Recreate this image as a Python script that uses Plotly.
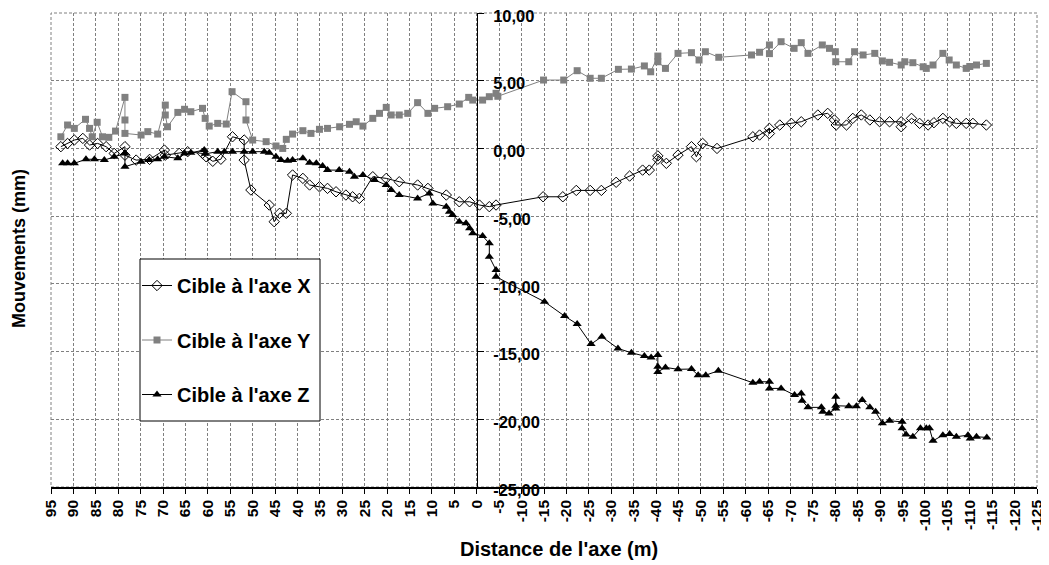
import plotly.graph_objects as go

# ---------------- data ----------------
x_tick_vals = list(range(95, -130, -5))
x_tick_text = [str(v) for v in x_tick_vals]
y_tick_vals = [10, 5, 0, -5, -10, -15, -20, -25]
y_tick_text = ["10,00", "5,00", "0,00", "-5,00", "-10,00", "-15,00", "-20,00", "-25,00"]

series_names = ["Cible à l'axe X", "Cible à l'axe Y", "Cible à l'axe Z"]

dist_x = [92.8, 91.3, 89.8, 87.9, 86.4, 84.6, 82.7, 80.9, 78.5, 78.5, 76.0, 73.0, 69.7, 69.5,
          66.4, 64.5, 61.2, 60.4, 58.9, 57.1, 54.5, 51.9, 51.9, 50.4, 46.3, 45.2, 44.0, 42.5,
          41.1, 38.8, 37.3, 35.1, 33.3, 31.4, 29.2, 27.7, 26.2, 23.2, 20.2, 17.3, 13.2, 10.9,
          6.8, 3.9, 1.6, -0.6, -2.8, -4.3, -14.8, -19.2, -22.2, -25.3, -27.8, -31.1, -34.1,
          -37.0, -38.5, -40.4, -40.4, -42.3, -44.9, -47.9, -49.0, -50.4, -53.6, -61.6, -63.1,
          -65.3, -65.3, -67.6, -70.2, -72.4, -76.1, -78.3, -79.8, -80.2, -82.5, -83.9, -85.8,
          -87.7, -89.9, -92.1, -94.7, -94.7, -97.0, -98.8, -100.7, -102.0, -104.0, -105.5,
          -107.0, -109.2, -110.7, -113.7]
val_x = [0.13, 0.37, 0.62, 0.74, 0.25, 0.37, 0.13, -0.37, 0.13, -0.5, -0.86, -0.81, -0.12, -0.5,
         -0.37, -0.24, -0.37, -0.61, -0.95, -0.8, 0.86, 0.62, -0.86, -3.07, -4.18, -5.41, -4.79, -4.79,
         -1.96, -2.21, -2.7, -2.83, -2.95, -3.2, -3.44, -3.57, -3.69, -2.09, -2.21, -2.46, -2.7, -2.95,
         -3.44, -3.94, -3.94, -4.18, -4.3, -4.18, -3.57, -3.57, -3.1, -3.1, -3.1, -2.5, -2.04,
         -1.6, -1.6, -0.8, -0.55, -1.1, -0.49, 0.13, -0.61, 0.37, 0.0, 0.86, 0.99,
         1.48, 1.1, 1.73, 1.85, 1.97, 2.47, 2.59, 2.1, 1.73, 1.73, 2.22, 2.47,
         2.1, 1.97, 1.97, 1.97, 1.6, 2.22, 1.85, 1.73, 1.9, 2.22, 1.97,
         1.85, 1.85, 1.85, 1.73]

dist_y = [92.8, 91.3, 89.8, 87.3, 86.4, 85.8, 84.7, 83.5, 82.1, 80.6, 78.5, 78.5, 78.5, 74.9,
          73.4, 71.2, 69.5, 69.5, 69.0, 66.7, 65.2, 63.8, 61.2, 60.6, 59.7, 57.8, 55.9, 54.6,
          51.5, 51.5, 50.0, 47.0, 44.8, 43.3, 42.5, 41.1, 38.8, 37.0, 35.1, 33.3, 30.6, 28.4,
          26.9, 25.4, 23.2, 21.7, 20.2, 19.1, 17.3, 15.4, 13.2, 10.9, 9.4, 6.5, 3.9, 1.8, 0.9,
          -1.3, -2.8, -4.3, -4.7, -14.9, -19.4, -22.4, -25.3, -27.8, -31.6, -34.5, -37.4, -38.8,
          -40.4, -40.4, -42.1, -44.9, -47.9, -49.6, -51.0, -54.0, -61.3, -63.1, -65.3, -65.3,
          -67.9, -70.8, -72.4, -73.9, -77.1, -78.7, -80.0, -80.1, -83.0, -84.3, -86.2, -88.8,
          -90.5, -92.1, -94.7, -95.5, -97.3, -99.6, -100.3, -101.8, -104.0, -105.4, -107.0,
          -109.2, -110.0, -111.5, -113.7]
val_y = [0.86, 1.73, 1.48, 2.15, 1.48, 0.86, 1.93, 0.86, 0.82, 1.28, 3.77, 2.1, 1.11, 0.99,
         1.24, 1.06, 3.2, 2.47, 1.6, 2.66, 2.89, 2.71, 2.96, 2.22, 1.65, 1.85, 1.8, 4.19,
         3.45, 2.1, 0.62, 0.5, 0.18, 0.0, 0.67, 1.06, 1.31, 1.11, 1.41, 1.48, 1.6, 1.78,
         1.97, 1.65, 2.22, 2.59, 3.03, 2.47, 2.47, 2.59, 3.38, 2.59, 2.96, 3.08, 3.28, 3.77, 3.57,
         3.57, 3.82, 4.07, 3.85, 5.05, 5.05, 5.74, 5.18, 5.18, 5.84, 5.86, 6.09, 5.66,
         6.82, 6.4, 5.91, 7.02, 7.07, 6.53, 7.14, 6.73, 6.9, 7.1, 7.64, 7.0,
         7.88, 7.39, 7.81, 7.02, 7.64, 7.39, 7.14, 6.4, 6.4, 7.14, 6.9, 7.02,
         6.46, 6.36, 6.16, 6.4, 6.33, 6.03, 5.91, 6.16, 7.02, 6.53, 6.16,
         5.91, 6.05, 6.16, 6.28]

dist_z = [92.4, 91.3, 89.8, 87.2, 85.3, 83.1, 80.9, 78.5, 78.5, 74.9, 73.1, 71.2, 69.7, 66.7,
          65.2, 63.8, 60.8, 60.6, 57.8, 56.3, 54.5, 51.9, 50.0, 47.4, 46.3, 44.8, 43.7, 42.2,
          41.1, 38.8, 37.3, 35.8, 34.4, 33.3, 30.7, 28.4, 27.3, 25.4, 22.8, 20.2, 19.1, 17.3,
          13.2, 10.6, 9.8, 6.8, 6.1, 5.4, 3.9, 2.4, 1.6, 0.9, -1.3, -2.8, -2.8, -4.3, -4.3,
          -15.1, -19.6, -22.4, -25.5, -27.9, -31.5, -34.5, -37.4, -38.9, -40.4, -40.4, -40.4,
          -42.1, -44.9, -47.9, -49.4, -51.1, -53.9, -61.6, -63.1, -65.3, -65.3, -67.9, -70.9,
          -72.4, -72.6, -73.9, -76.9, -77.2, -78.6, -80.1, -80.1, -80.1, -83.0, -84.7, -86.0,
          -87.7, -89.0, -90.5, -92.1, -94.9, -94.9, -95.8, -97.3, -99.0, -100.3, -101.0,
          -101.8, -104.0, -105.5, -107.0, -109.6, -110.1, -111.5, -113.8]
val_z = [-1.1, -1.1, -1.1, -0.8, -0.8, -0.86, -0.61, -0.37, -1.35, -0.98, -0.86, -0.8, -0.61, -0.73,
         -0.37, -0.32, -0.12, -0.4, -0.24, -0.24, -0.24, -0.24, -0.24, -0.24, -0.32, -0.61, -0.86, -0.91,
         -0.86, -0.73, -1.06, -1.1, -1.3, -1.6, -1.6, -1.72, -2.09, -1.96, -2.33, -2.7, -3.07, -3.44,
         -3.69, -3.32, -4.06, -4.3, -4.67, -4.92, -5.41, -5.53, -5.9, -6.27, -6.47, -7.01, -8.0, -8.98, -9.48,
         -11.32, -12.38, -12.97, -14.45, -13.9, -14.77, -15.09, -15.33, -15.43, -15.26, -16.12, -16.5,
         -16.17, -16.31, -16.29, -16.74, -16.74, -16.42, -17.3, -17.23, -17.23, -17.72, -17.72, -18.21,
         -18.09, -18.63, -19.12, -19.12, -19.45, -19.57, -19.2, -18.34, -19.0, -19.03, -19.03, -18.58,
         -19.12, -19.45, -20.3, -20.11, -20.19, -20.67, -21.12, -21.29, -20.67, -20.67, -20.67,
         -21.59, -21.17, -21.09, -21.29, -21.17, -21.41, -21.29, -21.34]

# ---------------- figure ----------------
FONT = "Liberation Sans, Arial, sans-serif"
GRID = "#808080"
DASH = "3px,2px"

# plot area in page pixels (page body has an 8px margin)
PX0, PX1, PY0, PY1 = 51, 1037, 13, 487
PW, PH = PX1 - PX0, PY1 - PY0


def fx(px):
    return (px - PX0) / PW


def fy(py):
    return (PY1 - py) / PH


fig = go.Figure()
fig.add_trace(go.Scatter(
    x=dist_x, y=val_x, name=series_names[0], mode="lines+markers", legendgroup="a",
    line=dict(color="black", width=1),
    marker=dict(symbol="diamond-open", size=8, color="black", line=dict(width=1, color="black"))))
fig.add_trace(go.Scatter(
    x=dist_y, y=val_y, name=series_names[1], mode="lines+markers", legendgroup="b",
    line=dict(color="#808080", width=1),
    marker=dict(symbol="square", size=7, color="#808080")))
fig.add_trace(go.Scatter(
    x=dist_z, y=val_z, name=series_names[2], mode="lines+markers", legendgroup="c",
    line=dict(color="black", width=1),
    marker=dict(symbol="triangle-up", size=8, color="black")))

fig.update_layout(
    width=1041, height=557,
    margin=dict(l=PX0 - 8, r=1049 - PX1, t=PY0 - 8, b=565 - PY1, autoexpand=False),
    paper_bgcolor="white", plot_bgcolor="white",
    font=dict(family=FONT, color="black", weight="bold"),
    showlegend=True,
    legend=dict(
        x=fx(137), y=fy(266), xanchor="left", yanchor="top",
        bgcolor="rgba(0,0,0,0)", borderwidth=0,
        font=dict(family=FONT, size=20, weight="bold"),
        tracegroupgap=25.5, traceorder="grouped", itemwidth=30),
    xaxis=dict(
        range=[95, -125], tickmode="array", tickvals=x_tick_vals, ticktext=x_tick_text,
        tickangle=-90, tickfont=dict(family=FONT, size=15.5, weight="bold"),
        showgrid=True, gridcolor=GRID, griddash=DASH, gridwidth=1,
        zeroline=False, showline=True, linecolor="black", linewidth=1.5,
        ticks="outside", ticklen=5, tickcolor="black", automargin=False,
        ticklabeloverflow="allow"),
    yaxis=dict(
        range=[-25, 10], tickmode="array", tickvals=y_tick_vals, ticktext=y_tick_text,
        tickfont=dict(family=FONT, size=16.5, weight="bold"),
        anchor="free", position=95 / 220, side="right",
        showgrid=True, gridcolor=GRID, griddash=DASH, gridwidth=1,
        zeroline=False, showline=True, linecolor="black", linewidth=1.2,
        ticks="outside", ticklen=6, tickcolor="black", automargin=False,
        ticklabeloverflow="allow", ticklabelstandoff=6, ticklabelshift=3),
    shapes=[
        dict(type="rect", xref="paper", yref="paper", x0=0, y0=0, x1=1, y1=1,
             line=dict(color=GRID, width=1, dash=DASH), layer="below"),
        dict(type="rect", xref="paper", yref="paper",
             x0=fx(140), x1=fx(320), y0=fy(421), y1=fy(259),
             line=dict(color="black", width=1), fillcolor="white", layer="above"),
    ],
    annotations=[
        dict(text="Distance de l'axe (m)", xref="paper", yref="paper",
             x=fx(559), y=fy(549), xanchor="center", yanchor="middle",
             showarrow=False, font=dict(family=FONT, size=20, weight="bold")),
        dict(text="Mouvements (mm)", xref="paper", yref="paper",
             x=fx(19), y=fy(249), xanchor="center", yanchor="middle",
             textangle=-90, showarrow=False, font=dict(family=FONT, size=18, weight="bold")),
    ],
)

fig.write_html("out.html")
